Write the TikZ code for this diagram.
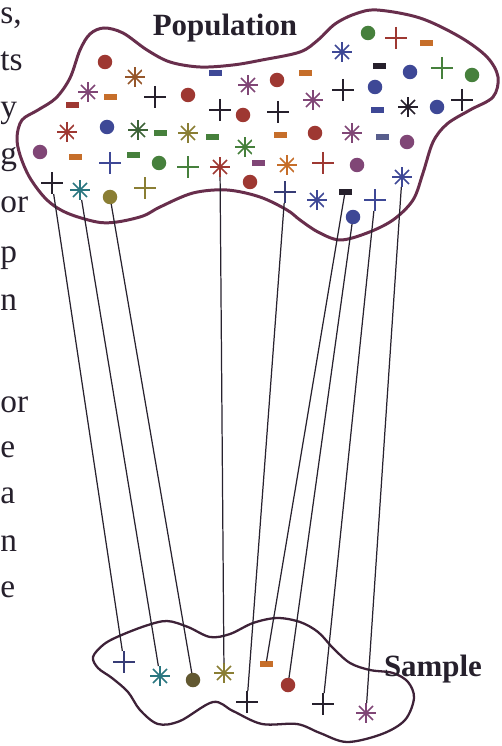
\documentclass[tikz,border=0pt]{standalone}
\usepackage{fontspec}
\setmainfont{Liberation Serif}
\usetikzlibrary{calc}
\definecolor{inkDark}{RGB}{38,32,44}
\definecolor{popEdge}{RGB}{104,46,76}
\definecolor{smpEdge}{RGB}{62,34,56}
\definecolor{linkDark}{RGB}{40,34,46}
\definecolor{symRed}{RGB}{158,56,50}
\definecolor{symBlue}{RGB}{62,72,150}
\definecolor{symGreen}{RGB}{70,128,60}
\definecolor{symOlive}{RGB}{138,126,52}
\definecolor{symPurple}{RGB}{128,70,118}
\definecolor{symOrange}{RGB}{198,110,42}
\definecolor{symTeal}{RGB}{42,118,128}

\begin{document}
\begin{tikzpicture}[
  x=0.02cm,y=-0.02cm,
  symbase/.style={inner sep=0pt,outer sep=0pt},
  dotsym/.style={symbase,circle,fill=#1,minimum size=2.9mm},
  plussym/.style={symbase,minimum size=4.4mm,path picture={
      \draw[#1,line width=0.85pt]
        (path picture bounding box.north) -- (path picture bounding box.south)
        (path picture bounding box.west) -- (path picture bounding box.east);}},
  starsym/.style={symbase,circle,minimum size=4mm,path picture={
      \foreach \a in {0,45,90,135}
        \draw[#1,line width=0.9pt]
          ($(path picture bounding box.center)+(\a:2mm)$) --
          ($(path picture bounding box.center)+(\a+180:2mm)$);}},
  minussym/.style={symbase,fill=#1,minimum width=2.6mm,minimum height=1.1mm},
  blob/.style={draw=popEdge,line width=1.7pt,smooth cycle,tension=0.55},
  link/.style={draw=linkDark,line width=0.7pt},
  lbl/.style={font=\bfseries\fontsize{17.6}{20}\selectfont,text=inkDark,
              inner sep=0pt,anchor=base},
  margintxt/.style={font=\fontsize{19}{22}\selectfont,text=inkDark,
                    inner sep=0pt,anchor=base west}
]
\useasboundingbox (0,0) rectangle (501,746);

% ==========  page text at the left edge  ==========
\node[margintxt] (mg1) at (0,24) {s,};
\node[margintxt] (mg2) at (0,71) {ts};
\node[margintxt] (mg3) at (0,118) {y};
\node[margintxt] (mg4) at (0,165) {g};
\node[margintxt] (mg5) at (0,213) {or};
\node[margintxt] (mg6) at (0,262) {p};
\node[margintxt] (mg7) at (0,310) {n};
\node[margintxt] (mg8) at (0,412) {or};
\node[margintxt] (mg9) at (0,457) {e};
\node[margintxt] (mg10) at (0,503) {a};
\node[margintxt] (mg11) at (0,551) {n};
\node[margintxt] (mg12) at (0,597) {e};

% ==========  outlines  ==========
\draw[blob] plot coordinates {
  (17,137) (22,120) (38,110) (56,98) (70,78) (80,50) (90,34) (104,28)
  (123,33) (147,50) (170,62) (200,67) (233,65) (262,60) (300,52) (318,40)
  (335,24) (355,14) (377,10) (420,18) (460,37) (487,57) (498,77) (493,97)
  (470,110) (447,124) (433,142) (423,173) (413,200) (393,220) (367,233)
  (340,240) (318,232) (300,220) (287,210) (260,197) (227,190) (193,193)
  (160,207) (143,216) (117,222) (97,222) (67,213) (47,200) (30,178) (20,155)};
\draw[blob,draw=smpEdge,line width=1.3pt] plot coordinates {
  (93,657) (103,645) (117,637) (145,626) (167,621) (188,627) (210,637)
  (230,634) (253,623) (277,618) (300,622) (318,632) (333,648) (350,663)
  (370,670) (393,673) (408,682) (414,698) (405,720) (382,734) (347,742)
  (320,733) (297,724) (262,724) (233,711) (213,702) (180,721) (158,724)
  (140,710) (128,692) (112,678) (98,668)};

\node[lbl] (poplbl) at (225,36) {Population};
\node[lbl] (smplbl) at (433,676) {Sample};

% ==========  population members  ==========
% top row
\node[dotsym=symGreen] (pop1) at (368,33) {};
\node[plussym=symRed] (pop2) at (396,38) {};
\node[minussym=symOrange] (pop3) at (426,43) {};
\node[starsym=symBlue] (pop4) at (342,52) {};
% second row
\node[dotsym=symRed] (pop5) at (105,62) {};
\node[minussym=symBlue] (pop6) at (215,73) {};
\node[minussym=symOrange] (pop7) at (305,73) {};
\node[starsym=symOrange!70!inkDark] (pop8) at (135,77) {};
\node[dotsym=symRed] (pop9) at (277,80) {};
\node[starsym=symPurple] (pop10) at (248,85) {};
\node[minussym=inkDark] (pop11) at (379,66) {};
\node[dotsym=symBlue] (pop12) at (410,72) {};
\node[plussym=symGreen] (pop13) at (442,68) {};
\node[dotsym=symGreen] (pop14) at (472,75) {};
% third row
\node[starsym=symPurple] (pop15) at (88,92) {};
\node[minussym=symOrange] (pop16) at (110,97) {};
\node[minussym=symRed] (pop17) at (72,105) {};
\node[plussym=inkDark] (pop18) at (155,97) {};
\node[dotsym=symRed] (pop19) at (188,95) {};
\node[plussym=inkDark] (pop20) at (220,110) {};
\node[dotsym=symRed] (pop21) at (243,115) {};
\node[plussym=inkDark] (pop22) at (278,112) {};
\node[starsym=symPurple] (pop23) at (313,100) {};
\node[plussym=inkDark] (pop24) at (343,90) {};
\node[dotsym=symBlue] (pop25) at (375,87) {};
\node[minussym=symBlue] (pop26) at (377,110) {};
\node[starsym=inkDark] (pop27) at (408,107) {};
\node[dotsym=symBlue] (pop28) at (437,107) {};
\node[plussym=inkDark] (pop29) at (462,100) {};
% fourth row
\node[starsym=symRed] (pop30) at (67,132) {};
\node[dotsym=symBlue] (pop31) at (107,127) {};
\node[starsym=symGreen!70!inkDark] (pop32) at (138,130) {};
\node[minussym=symGreen] (pop33) at (160,133) {};
\node[starsym=symOlive] (pop34) at (188,133) {};
\node[minussym=symGreen] (pop35) at (212,137) {};
\node[starsym=symGreen] (pop36) at (245,147) {};
\node[minussym=symOrange] (pop37) at (280,135) {};
\node[dotsym=symRed] (pop38) at (315,133) {};
\node[starsym=symPurple] (pop39) at (352,133) {};
\node[minussym=symBlue!60!gray] (pop40) at (382,137) {};
\node[dotsym=symPurple] (pop41) at (407,142) {};
% fifth row
\node[dotsym=symPurple] (pop42) at (40,152) {};
\node[minussym=symOrange] (pop43) at (75,157) {};
\node[plussym=symBlue] (pop44) at (110,163) {};
\node[minussym=symGreen] (pop45) at (133,155) {};
\node[dotsym=symGreen] (pop46) at (159,163) {};
\node[plussym=symGreen] (pop47) at (188,167) {};
\node[starsym=symRed] (pick4) at (220,167) {};
\node[minussym=symPurple] (pop48) at (258,163) {};
\node[starsym=symOrange] (pop49) at (287,165) {};
\node[plussym=symRed] (pop50) at (323,163) {};
\node[dotsym=symPurple] (pop51) at (357,165) {};
\node[starsym=symBlue] (pick9) at (402,177) {};
% bottom row
\node[plussym=inkDark] (pick1) at (52,183) {};
\node[starsym=symTeal] (pick2) at (80,190) {};
\node[dotsym=symOlive] (pick3) at (110,197) {};
\node[plussym=symOlive] (pop52) at (145,188) {};
\node[dotsym=symRed] (pop53) at (250,182) {};
\node[plussym=symBlue!70!inkDark] (pick5) at (285,192) {};
\node[starsym=symBlue] (pop54) at (317,200) {};
\node[minussym=inkDark] (pick6) at (345,192) {};
\node[plussym=symBlue] (pick8) at (375,200) {};
\node[dotsym=symBlue] (pick7) at (353,217) {};

% ==========  sample members  ==========
\node[plussym=symBlue!70!inkDark] (smp1) at (124,662) {};
\node[starsym=symTeal] (smp2) at (160,676) {};
\node[dotsym=symOlive!60!inkDark] (smp3) at (193,680) {};
\node[starsym=symOlive] (smp4) at (224,673) {};
\node[plussym=inkDark] (smp5) at (247,702) {};
\node[minussym=symOrange] (smp6) at (266,664) {};
\node[dotsym=symRed] (smp7) at (288,685) {};
\node[plussym=inkDark] (smp8) at (323,704) {};
\node[starsym=symPurple] (smp9) at (366,713) {};

% ==========  drawing the sample  ==========
\foreach \k in {1,...,9}
  \draw[link] (pick\k) -- (smp\k);

\end{tikzpicture}
\end{document}
